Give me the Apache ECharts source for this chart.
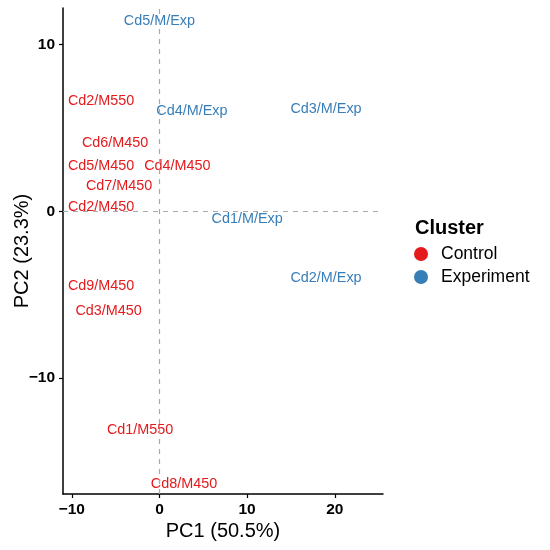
<!DOCTYPE html>
<html>
<head>
<meta charset="utf-8">
<script src="https://cdn.jsdelivr.net/npm/echarts@6/dist/echarts.min.js"></script>
<style>
  html, body { margin: 0; padding: 0; background: #fff; }
  #pca { width: 550px; height: 550px; }
</style>
</head>
<body>
<div id="pca"></div>
<script>
// PCA scores
var controlNames = ['Cd2/M550', 'Cd6/M450', 'Cd5/M450', 'Cd4/M450', 'Cd7/M450', 'Cd2/M450', 'Cd9/M450', 'Cd3/M450', 'Cd1/M550', 'Cd8/M450'];
var controlPC1 = [-6.65, -5.05, -6.65, 2.05, -4.6, -6.65, -6.65, -5.8, -2.2, 2.8];
var controlPC2 = [6.6, 4.1, 2.7, 2.7, 1.5, 0.26, -4.45, -6.0, -13.1, -16.35];

var expNames = ['Cd5/M/Exp', 'Cd4/M/Exp', 'Cd3/M/Exp', 'Cd1/M/Exp', 'Cd2/M/Exp'];
var expPC1 = [0.0, 3.7, 19.0, 10.0, 19.0];
var expPC2 = [11.4, 6.05, 6.15, -0.44, -4.0];

var xTicks = [-10, 0, 10, 20];
var yTicks = [-10, 0, 10];

function toPoints(names, xs, ys) {
    return names.map(function (n, i) {
        return { name: n, value: [xs[i], ys[i]] };
    });
}

function minusSign(v) {
    return String(v).replace('-', '\u2212');
}

var labelStyle = {
    show: true,
    position: 'inside',
    formatter: '{b}',
    fontFamily: 'Liberation Sans',
    fontSize: 14.4
};

var myChart = echarts.init(document.getElementById('pca'));
var option = {
    animation: false,
    textStyle: { fontFamily: 'Liberation Sans' },
    grid: { left: 63, right: 167, top: 8, bottom: 56, outerBoundsMode: 'none' },
    title: {
        text: 'Cluster',
        left: 410,
        top: 213,
        textStyle: { fontSize: 20, fontWeight: 'bold', color: '#000' }
    },
    legend: {
        orient: 'vertical',
        left: 409,
        top: 240,
        icon: 'circle',
        itemWidth: 30,
        itemHeight: 14,
        itemGap: 5,
        textStyle: { fontSize: 17.5, color: '#000' },
        data: ['Control', 'Experiment']
    },
    xAxis: {
        type: 'value',
        min: -11,
        max: 25.5,
        name: 'PC1 (50.5%)',
        nameLocation: 'middle',
        nameGap: 27,
        nameMoveOverlap: false,
        nameTextStyle: { fontSize: 20, color: '#000' },
        axisLine: { show: true, onZero: false, lineStyle: { color: '#000', width: 1.5 } },
        axisTick: { show: true, customValues: xTicks, length: 4, lineStyle: { color: '#000', width: 1.2 } },
        axisLabel: { customValues: xTicks, fontSize: 15.5, fontWeight: 'bold', color: '#000', margin: 8, formatter: minusSign },
        splitLine: { show: false }
    },
    yAxis: {
        type: 'value',
        min: -16.95,
        max: 12.2,
        name: 'PC2 (23.3%)',
        nameLocation: 'middle',
        nameGap: 31,
        nameMoveOverlap: false,
        nameTextStyle: { fontSize: 20, color: '#000' },
        axisLine: { show: true, onZero: false, lineStyle: { color: '#000', width: 1.5 } },
        axisTick: { show: true, customValues: yTicks, length: 4, lineStyle: { color: '#000', width: 1.2 } },
        axisLabel: { customValues: yTicks, fontSize: 15.5, fontWeight: 'bold', color: '#000', margin: 8, formatter: minusSign },
        splitLine: { show: false }
    },
    series: [
        {
            name: 'Control',
            type: 'scatter',
            symbolSize: 0,
            silent: true,
            itemStyle: { color: '#E41A1C', opacity: 1 },
            label: Object.assign({ color: '#E41A1C' }, labelStyle),
            data: toPoints(controlNames, controlPC1, controlPC2),
            markLine: {
                silent: true,
                symbol: 'none',
                label: { show: false },
                lineStyle: { color: '#aaaaaa', type: [5, 5], width: 1.2 },
                data: [{ xAxis: 0 }, { yAxis: 0 }]
            }
        },
        {
            name: 'Experiment',
            type: 'scatter',
            symbolSize: 0,
            silent: true,
            itemStyle: { color: '#377EB8', opacity: 1 },
            label: Object.assign({ color: '#377EB8' }, labelStyle),
            data: toPoints(expNames, expPC1, expPC2)
        }
    ]
};
myChart.setOption(option);
</script>
</body>
</html>
